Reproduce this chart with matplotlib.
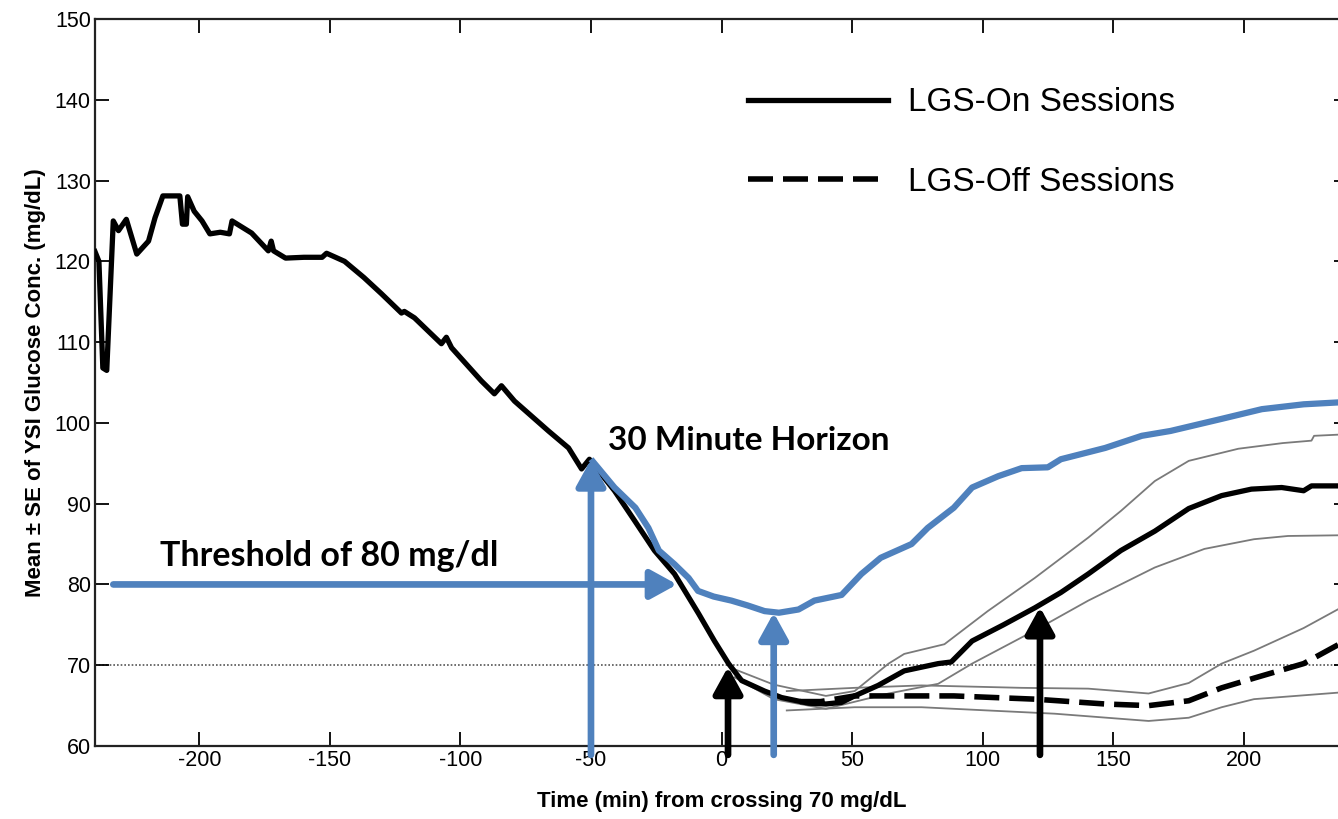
import matplotlib
matplotlib.use("Agg")
import matplotlib.pyplot as plt

plt.rcParams['axes.unicode_minus'] = False

# LGS-On mean (solid black)
on_t = [-240, -238.5, -237, -235.5, -233, -231, -228, -224, -219.5, -217, -214,
        -207.5, -206.5, -205, -204.5, -202, -199, -196, -192, -188.5, -187.5,
        -180, -173.6, -172.5, -171.6, -167, -160, -153, -151.3, -144.4, -137,
        -130.3, -122.6, -121.5, -117.6, -107.3, -105.4, -103.4, -92, -87, -84.3,
        -79.3, -66.3, -58.6, -53.6, -50.6, -41, -33.3, -25.7, -18, -8.8, -2.7,
        2.7, 7.7, 16.5, 23, 33.3, 40, 46, 51, 60, 70, 83, 88, 96, 108, 120, 130,
        140.5, 153, 166, 179, 191.6, 203, 214.6, 223, 226, 240]
on_y = [121.2, 120, 106.8, 106.5, 125, 123.8, 125.2, 120.9, 122.5, 125.4, 128.1,
        128.1, 124.6, 124.6, 128, 126.2, 125, 123.4, 123.6, 123.4, 125,
        123.5, 121.3, 122.5, 121.3, 120.4, 120.5, 120.5, 121, 120, 118,
        116, 113.6, 113.8, 113, 109.8, 110.6, 109.3, 105.2, 103.6, 104.6,
        102.7, 99, 96.9, 94.3, 95.5, 91.6, 87.9, 84.2, 81.3, 76.4, 73,
        70.2, 68.1, 66.8, 66, 65.3, 65.2, 65.4, 66.2, 67.5, 69.3, 70.2, 70.4, 73, 75, 77.1, 79,
        81.3, 84.2, 86.6, 89.4, 91, 91.8, 92, 91.6, 92.2, 92.2]

# LGS-On +/- SE
on_up_t = [5, 20, 40, 51, 64, 70, 85.4, 102, 120, 140.5, 153, 166, 179, 198, 215, 226, 227, 240]
on_up_y = [69.5, 67.6, 66.2, 66.8, 70.2, 71.4, 72.6, 76.7, 80.8, 85.8, 89.1, 92.8, 95.3, 96.8, 97.5, 97.8, 98.4, 98.6]
on_lo_t = [5, 20, 40, 45, 64, 83, 96, 120, 140.5, 166, 185, 204, 217, 240]
on_lo_y = [68.5, 65.8, 64.6, 65, 66.5, 67.7, 70.2, 74.3, 78, 82.1, 84.4, 85.6, 86, 86.1]

# LGS-Off mean (dashed) and +/- SE
off_t = [30, 38, 51, 64, 89, 120, 147, 163.6, 179, 191.6, 204, 223, 240]
off_y = [65.5, 65.5, 66.2, 66.2, 66.2, 65.8, 65.2, 65, 65.6, 67.2, 68.4, 70.2, 73.2]
off_up_t = [25, 51, 76.6, 115, 140.5, 163.6, 179, 191.6, 204, 223, 240]
off_up_y = [66.8, 67.2, 67.5, 67.2, 67.1, 66.5, 67.8, 70.2, 71.8, 74.6, 77.6]
off_lo_t = [25, 51, 76.6, 102, 127.6, 163.6, 179, 191.6, 204, 240]
off_lo_y = [64.4, 64.8, 64.8, 64.4, 64, 63.1, 63.5, 64.8, 65.8, 66.7]

# 30 minute horizon (blue)
hz_t = [-50, -41, -33, -28, -24, -18, -12.6, -9, -3, 3.8, 10, 16.5, 22, 29.5, 35.6,
        46, 53.6, 61, 72.8, 79, 89, 96, 106, 115, 125, 130, 147, 161, 172, 191.6,
        207, 223, 240]
hz_y = [95.5, 92, 89.5, 87, 84.2, 82.5, 80.8, 79.2, 78.5, 78, 77.4, 76.7, 76.5, 76.9, 78,
        78.7, 81.3, 83.3, 85, 87, 89.5, 92, 93.4, 94.4, 94.5, 95.5, 96.9, 98.4, 99, 100.5,
        101.7, 102.3, 102.6]

# annotation arrows: (x_tail, y_tail, x_tip, y_tip)
blue_arrows = [(-233, 80, -17, 80), (-50, 58.9, -50, 95.5), (20, 58.9, 20, 76.5)]
black_arrows = [(2.5, 58.9, 2.5, 69.8), (122, 58.9, 122, 77.2)]

BLUE = '#4F81BD'

fig = plt.figure(figsize=(13.38, 8.19), dpi=100)
ax = fig.add_axes([95 / 1338, 73 / 819, 1253 / 1338, 727 / 819])

ax.axhline(70, color='#555555', lw=1.2, ls=(0, (1, 1.2)), zorder=1)

for t, y in [(on_up_t, on_up_y), (on_lo_t, on_lo_y), (off_up_t, off_up_y), (off_lo_t, off_lo_y)]:
    ax.plot(t, y, color='#7a7a7a', lw=1.3, zorder=2)

l_off, = ax.plot(off_t, off_y, color='black', lw=4, dashes=(4.5, 1.8), zorder=3,
                 label='LGS-Off Sessions')
l_on, = ax.plot(on_t, on_y, color='black', lw=3.8, zorder=4, label='LGS-On Sessions')
ax.plot(hz_t, hz_y, color=BLUE, lw=4.5, zorder=5, solid_capstyle='butt')

for arrows, col in [(blue_arrows, BLUE), (black_arrows, 'black')]:
    for x0, y0, x1, y1 in arrows:
        ax.annotate('', xy=(x1, y1), xytext=(x0, y0), annotation_clip=False, zorder=6,
                    arrowprops=dict(arrowstyle='-|>,head_length=0.4,head_width=0.22',
                                    color=col, lw=4.8, mutation_scale=40,
                                    shrinkA=0, shrinkB=0))

ax.text(-43.4, 97.8, '30 Minute Horizon', fontsize=24, fontweight='bold',
        family='Lato', va='center', ha='left', zorder=7)
ax.text(-215, 83.5, 'Threshold of 80 mg/dl', fontsize=24.5, fontweight='bold',
        family='Lato', va='center', ha='left', zorder=7)

ax.set_xlim(-240, 240)
ax.set_ylim(60, 150)
ax.set_xticks([-200, -150, -100, -50, 0, 50, 100, 150, 200])
ax.set_yticks(range(60, 151, 10))
ax.tick_params(direction='in', length=10, width=1.3, top=True, right=True,
               labelsize=15.5, pad=3)
for lab in ax.get_xticklabels() + ax.get_yticklabels():
    lab.set_family('Liberation Sans')
for sp in ax.spines.values():
    sp.set_linewidth(1.6)
    sp.set_color('#222222')

ax.set_xlabel('Time (min) from crossing 70 mg/dL', fontsize=16, fontweight='bold',
              family='Liberation Sans', labelpad=14)
ax.set_ylabel('Mean ± SE of YSI Glucose Conc. (mg/dL)', fontsize=16, fontweight='bold',
              family='Liberation Sans', labelpad=6)

ax.legend(handles=[l_on, l_off], loc='upper left', bbox_to_anchor=(0.521, 0.906),
          frameon=False, prop={'family': 'Liberation Sans', 'size': 24},
          handlelength=4.2, handletextpad=0.6, labelspacing=1.45, borderpad=0,
          borderaxespad=0)

fig.savefig('out.png', dpi=100, facecolor='white')
